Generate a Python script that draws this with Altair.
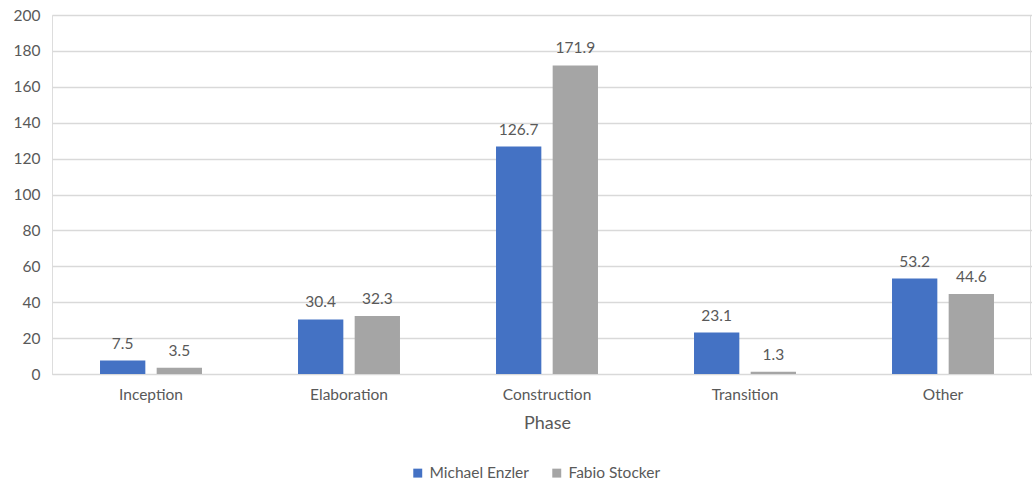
import altair as alt
import pandas as pd

phases = ["Inception", "Elaboration", "Construction", "Transition", "Other"]
michael = [7.5, 30.4, 126.7, 23.1, 53.2]
fabio = [3.5, 32.3, 171.9, 1.3, 44.6]
series = ["Michael Enzler", "Fabio Stocker"]
colors = ["#4472C4", "#A5A5A5"]

rows = []
for i, p in enumerate(phases):
    rows.append({"Phase": p, "Person": series[0], "Value": michael[i]})
    rows.append({"Phase": p, "Person": series[1], "Value": fabio[i]})
df = pd.DataFrame(rows)

FONT = "Lato"
TXT = "#595959"
FS = 15.5

base = alt.Chart(df).encode(
    x=alt.X("Phase:N", sort=phases,
            scale=alt.Scale(paddingInner=0.485, paddingOuter=0.2425, range=[0, 990]),
            axis=alt.Axis(title="Phase", labelAngle=0, ticks=False, domainColor="#D9D9D9",
                          labelFont=FONT, labelFontSize=FS, labelColor=TXT, labelPadding=13,
                          titleFont=FONT, titleFontSize=18, titleColor=TXT, titleFontWeight="normal",
                          titlePadding=12)),
    xOffset=alt.XOffset("Person:N", sort=series,
                        scale=alt.Scale(paddingInner=0.2, paddingOuter=0)),
    y=alt.Y("Value:Q", scale=alt.Scale(domain=[0, 200], nice=False),
            axis=alt.Axis(title=None, values=list(range(0, 201, 20)), ticks=False, domain=False,
                          gridColor="#D9D9D9", gridWidth=1.3,
                          labelFont=FONT, labelFontSize=FS, labelColor=TXT, labelPadding=12)),
)

bars = base.mark_bar().encode(
    color=alt.Color("Person:N", sort=series, scale=alt.Scale(domain=series, range=colors),
                    legend=alt.Legend(title=None, orient="none", direction="horizontal",
                                      legendX=358, legendY=450, symbolType="square", symbolSize=80,
                                      symbolStrokeWidth=0,
                                      labelFont=FONT, labelFontSize=FS, labelColor=TXT,
                                      columnPadding=20, labelOffset=4))
)

labels = base.mark_text(dy=-9, font=FONT, fontSize=FS, color=TXT, baseline="bottom").encode(
    text=alt.Text("Value:Q", format=".1f")
)

chart = (bars + labels).properties(
    width=978, height=359,
    autosize=alt.AutoSizeParams(type="none"),
    padding={"left": 52, "top": 15, "right": 2, "bottom": 112},
).configure_view(stroke=None).configure(background="white")

chart.save("out.html", embed_options={"renderer": "svg", "actions": False})
